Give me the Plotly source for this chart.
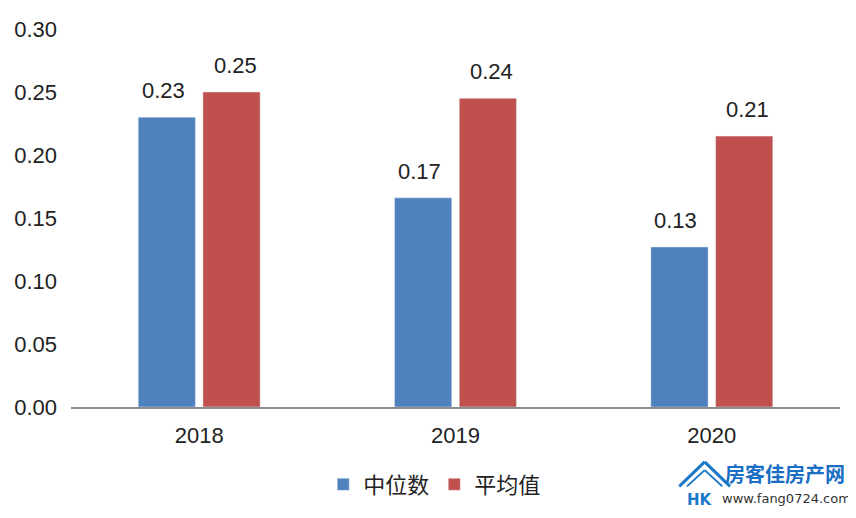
import plotly.graph_objects as go

years = ["2018", "2019", "2020"]
median_vals = [0.230, 0.166, 0.127]
mean_vals = [0.250, 0.245, 0.215]
median_text = ["0.23", "0.17", "0.13"]
mean_text = ["0.25", "0.24", "0.21"]
y_ticks = [0.00, 0.05, 0.10, 0.15, 0.20, 0.25, 0.30]

font_main = "Liberation Sans, Arial, Noto Sans CJK SC, sans-serif"
blue = "#4F81BD"
red = "#C0504D"

fig = go.Figure()
fig.add_trace(go.Bar(name="中位数", x=years, y=median_vals, marker_color=blue))
fig.add_trace(go.Bar(name="平均值", x=years, y=mean_vals, marker_color=red))

# value labels above the bars (x given as category index, numeric-looking
# category names would otherwise be read as indices)
for i, (v, t) in enumerate(zip(median_vals, median_text)):
    fig.add_annotation(x=i, y=v, text=t, showarrow=False, xshift=-36, yshift=12,
                       yanchor="bottom", font=dict(size=22, color="#222222"))
for i, (v, t) in enumerate(zip(mean_vals, mean_text)):
    fig.add_annotation(x=i, y=v, text=t, showarrow=False, xshift=36, yshift=12,
                       yanchor="bottom", font=dict(size=22, color="#222222"))

fig.update_layout(
    width=848, height=510,
    margin=dict(l=63, r=16, t=21, b=101),
    paper_bgcolor="white", plot_bgcolor="white",
    font=dict(family=font_main, size=22, color="#222222"),
    barmode="group", bargap=0.495, bargroupgap=0.116,
    showlegend=True,
    legend=dict(orientation="h", x=0.473, xanchor="center", y=-0.205, yanchor="middle",
                font=dict(size=22, family="Noto Sans CJK SC, sans-serif"),
                traceorder="normal"),
)

fig.update_xaxes(type="category", range=[-0.5, 2.5], showline=True, linecolor="#8c8c8c",
                 linewidth=2, ticks="", showgrid=False, ticklabelstandoff=8, automargin=False)
fig.update_yaxes(range=[0, 0.30], tickvals=y_ticks, tickformat=".2f",
                 showgrid=False, zeroline=False, showline=False,
                 ticks="", ticklabelstandoff=13, automargin=False)

# watermark logo (roof lines)
logo_blue = "#1a78c8"
for x0, y0, x1, y1, w in [(0.791, -0.21, 0.824, -0.145, 3), (0.824, -0.145, 0.857, -0.21, 3),
                          (0.801, -0.21, 0.824, -0.167, 2), (0.824, -0.167, 0.847, -0.21, 2)]:
    fig.add_shape(type="line", xref="paper", yref="paper", x0=x0, y0=y0, x1=x1, y1=y1,
                  line=dict(color=logo_blue, width=w))
fig.add_annotation(xref="paper", yref="paper", x=0.818, y=-0.245, xanchor="center", yanchor="middle",
                   text="<b>HK</b>", showarrow=False,
                   font=dict(size=15, color=logo_blue, family="DejaVu Sans"))
fig.add_annotation(xref="paper", yref="paper", x=0.928, y=-0.175, xanchor="center", yanchor="middle",
                   text="<b>房客佳房产网</b>", showarrow=False,
                   font=dict(size=20, color="#1a6fc4", family="Noto Sans CJK SC, sans-serif"))
fig.add_annotation(xref="paper", yref="paper", x=0.93, y=-0.243, xanchor="center", yanchor="middle",
                   text="www.fang0724.com", showarrow=False,
                   font=dict(size=13, color="#333333", family="DejaVu Sans"))

fig.write_html("out.html")
